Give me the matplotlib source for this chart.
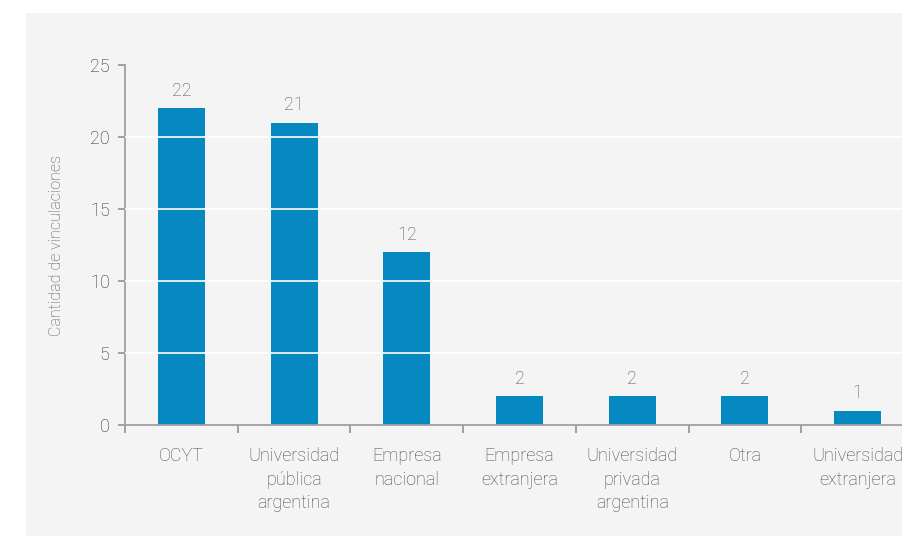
import numpy as np
import matplotlib.pyplot as plt
from matplotlib.patches import Rectangle
from matplotlib import font_manager

categorias = ["OCYT", "Universidad\npública\nargentina", "Empresa\nnacional",
              "Empresa\nextranjera", "Universidad\nprivada\nargentina", "Otra",
              "Universidad\nextranjera"]
vinculaciones = [22, 21, 12, 2, 2, 2, 1]
yticks = [0, 5, 10, 15, 20, 25]

nombres = {f.name for f in font_manager.fontManager.ttflist}
familia = 'Liberation Sans Narrow' if 'Liberation Sans Narrow' in nombres else 'Roboto'
plt.rcParams['font.family'] = [familia, 'DejaVu Sans']
plt.rcParams['font.weight'] = 'light'

W, H = 902, 536
fig = plt.figure(figsize=(W / 100, H / 100), dpi=100)
fig.patch.set_facecolor('white')
# gray panel behind the chart
fig.patches.append(Rectangle((26 / W, 0), 1, 1 - 13 / H, transform=fig.transFigure,
                             facecolor='#f4f4f4', edgecolor='none', zorder=-5))

# axes placed in pixels; the right end runs past the figure edge
left, right, bottom, top = 125, 914, 425, 65
ax = fig.add_axes([left / W, 1 - bottom / H, (right - left) / W, (bottom - top) / H])
ax.set_facecolor('none')
ax.set_zorder(2)

x = np.arange(len(categorias))
ax.bar(x, vinculaciones, width=0.416, color='#0689c1', zorder=2)
for xi, v in zip(x, vinculaciones):
    ax.text(xi, v + 0.6, str(v), ha='center', va='bottom', fontsize=13, color='#555555')

ax.set_xlim(-0.5, len(categorias) - 0.5)
ax.set_ylim(0, 25)
ax.set_yticks(yticks)
ax.set_yticklabels([str(t) for t in yticks], fontsize=13, color='#2b2b2b')
for t in yticks[1:-1]:
    ax.axhline(t, color='white', lw=1.2, zorder=3)

ax.set_xticks(x)
ax.set_xticklabels(categorias, fontsize=13, color='#4a4a4a', linespacing=1.4)
ax.tick_params(axis='x', length=0, pad=16)
ax.set_xticks(np.arange(len(categorias)) - 0.5, minor=True)
ax.tick_params(axis='x', which='minor', length=6, color='#999999', width=1.3)
ax.tick_params(axis='y', length=5, color='#999999', width=1.3, pad=6)

for s in ['top', 'right']:
    ax.spines[s].set_visible(False)
for s in ['left', 'bottom']:
    ax.spines[s].set_color('#a0a0a0')
    ax.spines[s].set_linewidth(1.3)

fig.text(57 / W, 1 - 245 / H, 'Cantidad de vinculaciones', rotation=90,
         ha='center', va='center', fontsize=11.5, color='#555555')

fig.savefig('out.png', dpi=100)
